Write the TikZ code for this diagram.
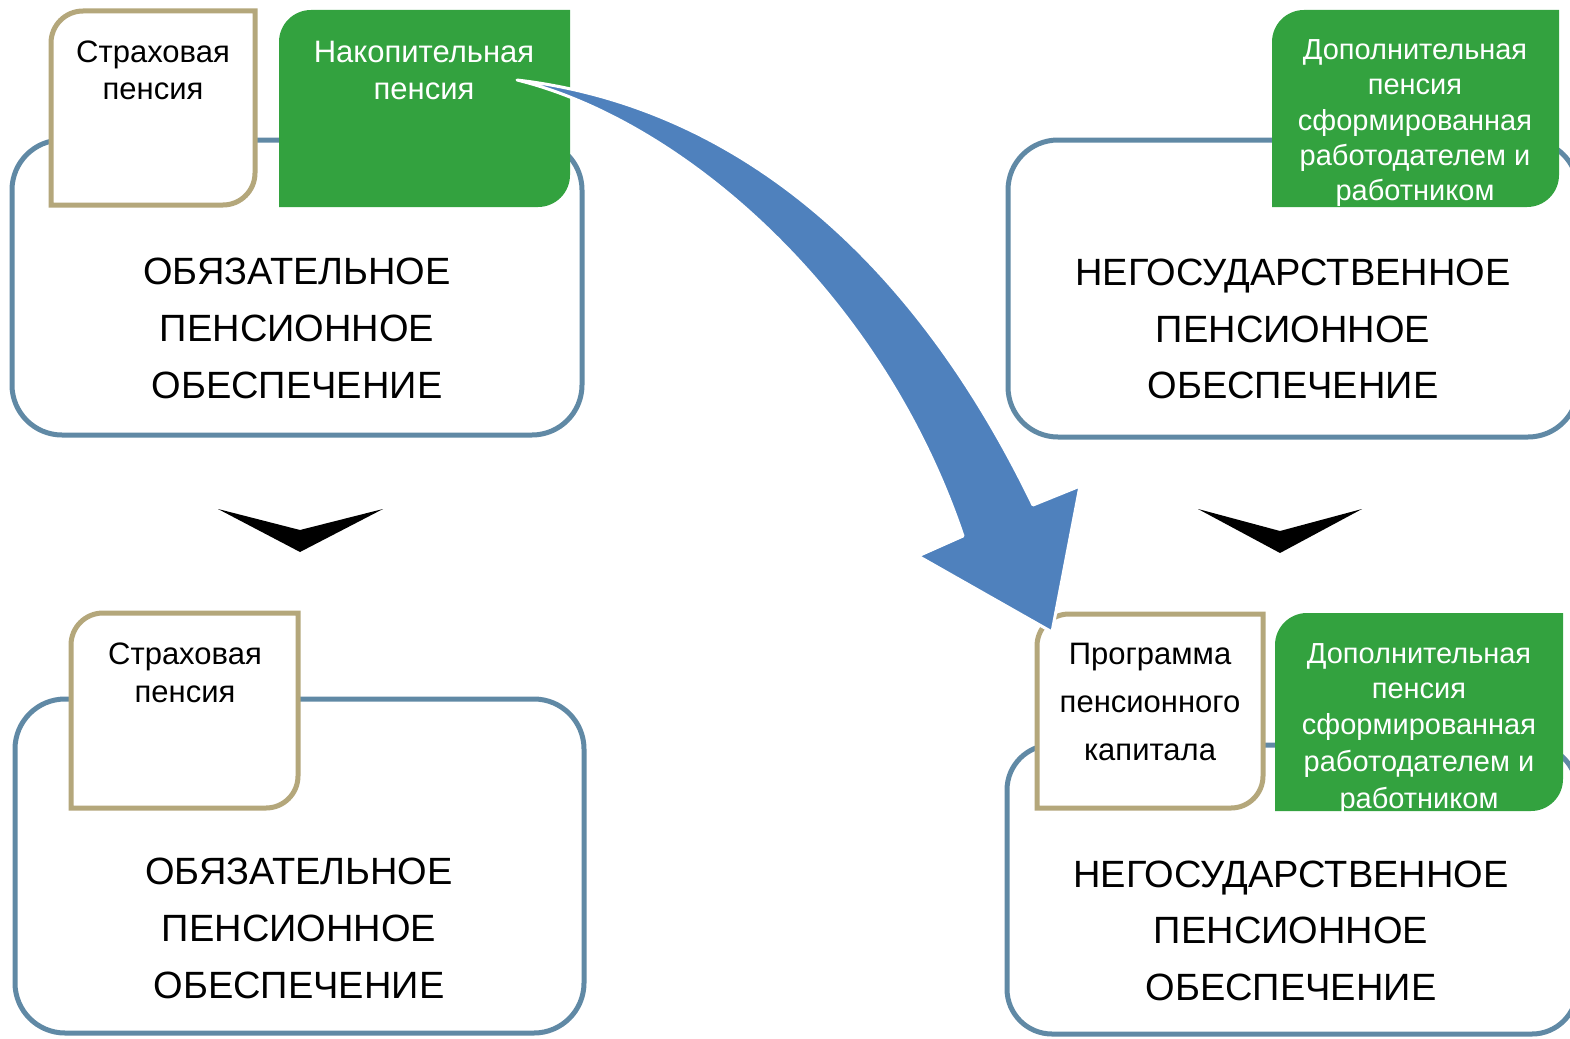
\documentclass[tikz,border=0pt]{standalone}
\usepackage{fontspec}
\setmainfont{Liberation Sans}
\definecolor{boxblue}{HTML}{6089A5}
\definecolor{tanline}{HTML}{B4A77B}
\definecolor{grn}{HTML}{33A23F}
\definecolor{arrowblue}{HTML}{4F81BD}
\begin{document}
\begin{tikzpicture}[x=1pt,y=-1pt,
  bigbox/.style={draw=boxblue,line width=5pt,fill=white,rounded corners=50pt},
  tanbox/.style={draw=tanline,line width=5pt,fill=white},
  grnbox/.style={fill=grn},
  bigtxt/.style={font=\fontsize{38}{45}\selectfont,anchor=base,inner sep=0pt},
  smtxt/.style={font=\fontsize{31}{37}\selectfont,anchor=base,inner sep=0pt},
  grtxt/.style={font=\fontsize{29}{35}\selectfont,anchor=base,inner sep=0pt,text=white},
  chev/.style={fill=black},
  bigarrow/.style={fill=arrowblue,draw=white,line width=3pt,line join=round}]
\clip (0,0) rectangle (1570,1038);

% ---------- big boxes ----------
\path[bigbox] (12,140) rectangle (582,435);
\path[bigbox] (1008,140) rectangle (1578,437);
\path[bigbox] (15,699) rectangle (584,1033);
\path[bigbox,rounded corners=45pt] (1007,745) rectangle (1577,1034);

% ---------- top-left group ----------
\path[tanbox] (51,205) -- (51,43) arc[start angle=180,end angle=270,radius=32] -- (255,11) -- (255,173) arc[start angle=0,end angle=90,radius=32] -- cycle;
\node[smtxt] (s1a) at (153,63) {Страховая};
\node[smtxt] (s1b) at (153,100) {пенсия};

\path[grnbox] (279,207) -- (279,42) arc[start angle=180,end angle=270,radius=32] -- (570,10) -- (570,175) arc[start angle=0,end angle=90,radius=32] -- cycle;
\node[smtxt,text=white] (n1a) at (424,63) {Накопительная};
\node[smtxt,text=white] (n1b) at (424,100) {пенсия};

\node[bigtxt] (o1a) at (297,284) {ОБЯЗАТЕЛЬНОЕ};
\node[bigtxt] (o1b) at (297,341) {ПЕНСИОННОЕ};
\node[bigtxt] (o1c) at (297,398) {ОБЕСПЕЧЕНИЕ};

% ---------- top-right group ----------
\path[grnbox] (1272,207) -- (1272,42) arc[start angle=180,end angle=270,radius=32] -- (1559,10) -- (1559,175) arc[start angle=0,end angle=90,radius=32] -- cycle;
\begin{scope}
\clip (1272,207) -- (1272,42) arc[start angle=180,end angle=270,radius=32] -- (1559,10) -- (1559,175) arc[start angle=0,end angle=90,radius=32] -- cycle;
\node[grtxt] (d1a) at (1415,60) {Дополнительная};
\node[grtxt] (d1b) at (1415,95) {пенсия};
\node[grtxt] (d1c) at (1415,130) {сформированная};
\node[grtxt] (d1d) at (1415,165) {работодателем и};
\node[grtxt] (d1e) at (1415,200) {работником};
\end{scope}

\node[bigtxt] (g1a) at (1293,285) {НЕГОСУДАРСТВЕННОЕ};
\node[bigtxt] (g1b) at (1293,342) {ПЕНСИОННОЕ};
\node[bigtxt] (g1c) at (1293,398) {ОБЕСПЕЧЕНИЕ};

% ---------- chevrons ----------
\path[chev] (218,509) -- (300,530) -- (383,509) -- (300,552) -- cycle;
\path[chev] (1198,509) -- (1280,531) -- (1362,509) -- (1280,553) -- cycle;

% ---------- bottom-left group ----------
\path[tanbox] (71,808) -- (71,645) arc[start angle=180,end angle=270,radius=32] -- (298,613) -- (298,776) arc[start angle=0,end angle=90,radius=32] -- cycle;
\node[smtxt] (s2a) at (185,664) {Страховая};
\node[smtxt] (s2b) at (185,702) {пенсия};

\node[bigtxt] (o2a) at (299,884) {ОБЯЗАТЕЛЬНОЕ};
\node[bigtxt] (o2b) at (299,941) {ПЕНСИОННОЕ};
\node[bigtxt] (o2c) at (299,998) {ОБЕСПЕЧЕНИЕ};

% ---------- bottom-right group ----------
\path[tanbox] (1037,808) -- (1037,646) arc[start angle=180,end angle=270,radius=32] -- (1263,614) -- (1263,776) arc[start angle=0,end angle=90,radius=32] -- cycle;
\node[smtxt] (p2a) at (1150,664) {Программа};
\node[smtxt] (p2b) at (1150,712) {пенсионного};
\node[smtxt] (p2c) at (1150,760) {капитала};

\path[grnbox] (1275,811) -- (1275,645) arc[start angle=180,end angle=270,radius=32] -- (1563,613) -- (1563,779) arc[start angle=0,end angle=90,radius=32] -- cycle;
\begin{scope}
\clip (1275,811) -- (1275,645) arc[start angle=180,end angle=270,radius=32] -- (1563,613) -- (1563,779) arc[start angle=0,end angle=90,radius=32] -- cycle;
\node[grtxt] (d2a) at (1419,663) {Дополнительная};
\node[grtxt] (d2b) at (1419,698) {пенсия};
\node[grtxt] (d2c) at (1419,734) {сформированная};
\node[grtxt] (d2d) at (1419,771) {работодателем и};
\node[grtxt] (d2e) at (1419,808) {работником};
\end{scope}

\node[bigtxt] (g2a) at (1291,887) {НЕГОСУДАРСТВЕННОЕ};
\node[bigtxt] (g2b) at (1291,943) {ПЕНСИОННОЕ};
\node[bigtxt] (g2c) at (1291,1000) {ОБЕСПЕЧЕНИЕ};

% ---------- big curved arrow ----------
\coordinate (arrS) at (517,80);
\coordinate (arrT) at (1052,632);
\path[bigarrow] (arrS) .. controls (730,105) and (910,250) .. (1033,505)
  -- (1080,486) -- (arrT) -- (918,556) -- (963,536)
  .. controls (880,290) and (680,120) .. (arrS) -- cycle;
\end{tikzpicture}
\end{document}
